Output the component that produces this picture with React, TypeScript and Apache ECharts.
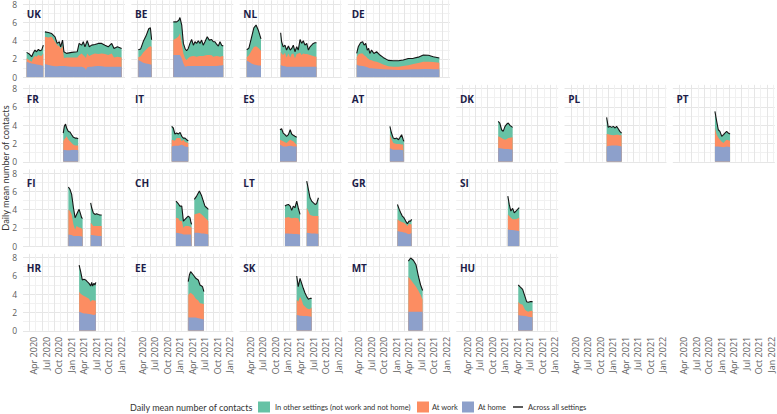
import React, { useEffect, useRef } from 'react';
import * as echarts from 'echarts';

// ---------- tick labels ----------
const xTickMonths = [3, 6, 9, 12, 15, 18, 21, 24];
const xTickLabels = ['Apr 2020', 'Jul 2020', 'Oct 2020', 'Jan 2021', 'Apr 2021', 'Jul 2021', 'Oct 2021', 'Jan 2022'];
const yTickValues = [0, 2, 4, 6, 8];

// ---------- data (null = gap between survey periods) ----------
const ukDates = ['2020-03-12','2020-04-01','2020-04-18','2020-04-30','2020-05-12','2020-05-24','2020-06-06','2020-06-18','2020-06-30','2020-07-12','2020-07-18','2020-07-24','2020-08-18','2020-09-12','2020-10-06','2020-10-22','2020-11-07','2020-11-16','2020-11-30','2020-12-10','2020-12-29','2021-02-05','2021-03-16','2021-03-30','2021-04-17','2021-04-29','2021-05-11','2021-05-18','2021-05-28','2021-06-12','2021-06-29','2021-07-23','2021-08-17','2021-09-11','2021-10-05','2021-10-29','2021-11-23','2021-12-10','2022-01-04','2022-02-04'];
const ukHome = [1.70,1.58,1.52,1.48,1.45,1.41,1.38,1.34,1.30,1.27,null,1.45,1.35,1.27,1.20,1.20,1.23,1.23,1.23,1.23,1.20,1.16,1.16,1.16,1.16,1.10,0.98,0.80,1.10,1.16,1.16,1.20,1.23,1.20,1.16,1.16,1.16,1.16,1.16,1.16];
const ukWork = [0.37,0.27,0.18,0.62,0.87,0.84,1.05,1.02,1.06,1.33,null,2.97,3.00,3.15,2.68,2.30,2.17,1.87,2.22,0.87,0.97,1.01,1.01,1.24,1.44,1.30,1.27,1.30,1.50,1.16,1.29,1.40,1.31,1.40,1.38,1.27,1.44,1.01,1.09,1.01];
const ukOther = [0.65,0.69,0.55,0.58,0.65,0.54,0.61,0.54,0.61,0.91,null,0.54,0.54,0.36,0.54,0.20,0.48,0.23,0.61,0.69,0.44,0.55,0.62,1.30,0.91,1.48,1.08,1.50,1.39,1.01,1.06,0.99,1.16,1.10,0.97,0.90,1.10,0.98,1.08,0.98];

const beDates = ['2020-04-06','2020-04-23','2020-05-12','2020-06-01','2020-06-21','2020-07-03','2020-07-12','2020-09-15','2020-12-18','2021-01-12','2021-01-28','2021-02-05','2021-02-17','2021-02-28','2021-03-12','2021-03-24','2021-04-05','2021-04-17','2021-04-29','2021-05-12','2021-05-24','2021-06-05','2021-06-17','2021-06-29','2021-07-11','2021-07-23','2021-08-05','2021-08-22','2021-09-06','2021-09-23','2021-10-05','2021-10-17','2021-10-29','2021-11-11','2021-11-23','2021-12-05','2021-12-17'];
const beHome = [1.90,1.75,1.60,1.50,1.45,1.40,1.40,null,2.43,2.43,2.43,2.43,2.07,1.52,1.16,1.20,1.23,1.23,1.23,1.23,1.23,1.23,1.23,1.23,1.23,1.23,1.23,1.23,1.23,1.23,1.23,1.23,1.23,1.25,1.28,1.30,1.34];
const beWork = [0.30,0.55,1.10,1.50,1.85,2.00,1.90,null,1.63,1.87,2.07,2.35,1.63,1.08,0.91,0.68,0.87,1.02,1.07,1.09,1.07,1.02,1.07,1.09,1.09,1.09,1.15,1.20,1.20,1.17,1.02,1.07,1.09,1.05,0.97,1.00,0.98];
const beOther = [0.80,0.80,1.20,1.50,2.00,2.00,0.80,null,1.99,1.75,1.73,1.74,1.99,1.10,1.08,1.02,1.05,1.45,1.83,1.19,1.58,1.45,1.69,1.38,1.74,1.19,1.50,1.99,1.63,1.73,1.63,1.58,1.30,1.11,1.63,1.21,1.09];

const nlDates = ['2020-04-07','2020-04-23','2020-05-11','2020-05-29','2020-06-14','2020-07-01','2020-07-20','2020-10-01','2020-12-11','2020-12-18','2020-12-30','2021-01-12','2021-01-24','2021-02-06','2021-02-18','2021-02-28','2021-03-12','2021-03-24','2021-04-06','2021-04-17','2021-04-30','2021-05-12','2021-05-24','2021-06-05','2021-06-18','2021-06-30','2021-07-12','2021-07-24','2021-08-05','2021-08-17','2021-08-29'];
const nlHome = [1.80,1.70,1.50,1.40,1.35,1.30,1.30,null,1.34,1.30,1.23,1.20,1.16,1.16,1.16,1.16,1.16,1.16,1.16,1.16,1.16,1.16,1.16,1.16,1.16,1.16,1.16,1.16,1.16,1.16,1.16];
const nlWork = [0.40,0.70,1.40,1.90,2.05,1.90,1.60,null,1.45,1.30,1.20,1.48,1.01,1.44,1.01,1.38,1.44,0.91,1.38,1.44,1.52,1.27,1.44,1.39,1.38,1.32,1.27,1.22,1.16,1.12,1.09];
const nlOther = [0.80,0.80,1.40,2.10,2.30,1.90,1.30,null,2.07,1.28,0.90,0.83,0.80,0.81,0.80,0.61,0.91,0.72,0.79,0.37,1.45,1.27,1.39,0.96,1.16,0.49,0.90,1.13,1.38,1.49,1.52];

const deDates = ['2020-04-19','2020-04-30','2020-05-17','2020-06-02','2020-06-12','2020-06-24','2020-07-05','2020-07-15','2020-07-24','2020-08-06','2020-08-23','2020-09-12','2020-10-06','2020-10-30','2020-12-06','2021-01-12','2021-02-18','2021-03-24','2021-04-30','2021-06-06','2021-07-12','2021-08-18','2021-09-24','2021-10-30','2021-12-13'];
const deHome = [1.40,1.30,1.25,1.23,1.20,1.15,1.10,1.05,1.00,1.00,0.95,0.92,0.90,0.88,0.85,0.82,0.80,0.82,0.85,0.87,0.88,0.90,0.90,0.88,0.87];
const deWork = [0.80,1.20,1.35,1.37,1.20,1.15,1.00,0.95,0.90,0.85,0.80,0.78,0.65,0.52,0.35,0.34,0.36,0.41,0.47,0.58,0.67,0.80,0.80,0.80,0.73];
const deOther = [0.40,0.83,1.17,1.28,1.11,1.40,0.87,1.15,0.70,1.12,0.85,1.09,0.88,0.77,0.65,0.65,0.65,0.65,0.73,0.62,0.65,0.73,0.70,0.57,0.50];

const frDates = ['2020-12-05','2020-12-13','2020-12-22','2020-12-30','2021-01-12','2021-01-24','2021-02-05','2021-02-17','2021-02-28','2021-03-11','2021-03-23'];
const frHome = [1.32,1.30,1.28,1.25,1.25,1.25,1.28,1.32,1.30,1.28,1.25];
const frWork = [0.91,1.15,1.31,1.53,1.16,0.98,0.77,0.55,0.49,0.51,0.54];
const frOther = [0.91,1.42,1.53,0.91,0.91,1.02,0.91,0.80,0.80,0.80,0.73];

const itDates = ['2020-12-06','2020-12-18','2020-12-30','2021-01-12','2021-01-24','2021-02-06','2021-02-17','2021-02-28','2021-03-12','2021-03-24','2021-04-05'];
const itHome = [1.68,1.72,1.76,1.76,1.76,1.80,1.87,1.78,1.68,1.65,1.61];
const itWork = [0.73,0.63,0.54,0.83,0.83,0.79,0.36,0.63,0.48,0.45,0.44];
const itOther = [1.46,1.34,0.73,0.55,0.44,0.62,0.55,0.18,0.43,0.31,0.25];

const esDates = ['2020-12-06','2020-12-18','2020-12-30','2021-01-12','2021-01-24','2021-02-06','2021-02-18','2021-02-28','2021-03-12','2021-03-24','2021-04-06'];
const esHome = [1.87,1.78,1.68,1.68,1.68,1.72,1.76,1.72,1.68,1.68,1.68];
const esWork = [0.54,0.54,0.55,0.46,0.37,0.51,0.65,0.60,0.55,0.37,0.19];
const esOther = [1.09,1.29,0.91,0.82,0.73,0.73,1.09,0.71,0.66,0.73,0.80];

const atDates = ['2020-12-18','2020-12-30','2021-01-12','2021-01-24','2021-02-06','2021-02-18','2021-02-28','2021-03-12','2021-03-24','2021-03-29'];
const atHome = [1.50,1.40,1.32,1.32,1.32,1.32,1.32,1.30,1.27,1.25];
const atWork = [1.46,1.10,0.73,0.68,0.62,0.62,0.62,0.60,0.61,0.62];
const atOther = [0.91,0.64,0.54,0.52,0.65,0.47,0.73,1.06,0.53,0.36];

const dkDates = ['2020-12-18','2020-12-30','2021-01-12','2021-01-24','2021-02-06','2021-02-18','2021-02-28','2021-03-12','2021-04-01'];
const dkHome = [1.50,1.47,1.45,1.43,1.41,1.40,1.39,1.36,1.32];
const dkWork = [1.28,1.23,1.14,1.07,1.00,1.10,1.20,1.27,1.35];
const dkOther = [1.63,1.53,0.91,0.82,1.46,1.62,1.64,1.35,1.09];

const plDates = ['2020-12-19','2020-12-31','2021-01-13','2021-01-25','2021-02-06','2021-02-18','2021-02-28','2021-03-12','2021-03-24','2021-04-06'];
const plHome = [1.68,1.72,1.76,1.77,1.78,1.79,1.79,1.75,1.72,1.68];
const plWork = [1.35,1.28,1.20,1.15,1.11,1.13,1.17,1.19,1.18,1.21];
const plOther = [1.82,0.76,0.91,0.84,0.98,0.77,0.91,0.67,0.42,0.25];

const ptDates = ['2020-12-19','2021-01-01','2021-01-13','2021-01-25','2021-02-07','2021-02-19','2021-02-28','2021-03-13','2021-03-25','2021-04-07'];
const ptHome = [1.68,1.68,1.68,1.65,1.62,1.58,1.62,1.68,1.65,1.61];
const ptWork = [2.01,1.28,0.97,0.76,0.58,0.47,0.63,0.73,0.70,0.69];
const ptOther = [1.81,1.45,0.85,0.91,0.58,0.91,0.89,0.91,0.79,0.73];

const fiDates = ['2021-01-12','2021-01-24','2021-02-05','2021-02-17','2021-02-28','2021-03-11','2021-03-23','2021-03-30','2021-04-10','2021-04-17','2021-04-24','2021-05-20','2021-06-22','2021-06-29','2021-07-11','2021-07-23','2021-08-05','2021-08-17','2021-08-29','2021-09-11'];
const fiHome = [1.30,1.27,1.23,1.12,1.12,1.12,1.12,1.12,1.10,1.08,1.04,null,1.23,1.22,1.20,1.19,1.15,1.12,1.12,1.12];
const fiWork = [2.73,2.58,2.25,1.27,0.72,1.09,0.98,0.94,0.93,0.87,0.80,null,1.34,1.23,1.01,1.02,1.06,1.09,1.09,1.09];
const fiOther = [2.44,2.36,2.19,1.82,1.28,1.27,1.75,1.97,1.45,1.17,1.21,null,2.18,1.76,1.45,1.27,1.35,1.27,1.20,1.20];

const chDates = ['2021-01-07','2021-01-24','2021-02-05','2021-02-17','2021-02-28','2021-03-12','2021-03-24','2021-04-05','2021-04-17','2021-04-25','2021-04-29','2021-05-10','2021-05-19','2021-06-05','2021-06-18','2021-06-25','2021-07-12','2021-07-24','2021-08-05','2021-08-18','2021-08-30'];
const chHome = [1.48,1.45,1.41,1.36,1.30,1.30,1.30,1.30,1.30,1.30,1.30,null,1.48,1.48,1.48,1.45,1.41,1.39,1.37,1.33,1.30];
const chWork = [1.64,1.60,1.34,1.39,0.73,0.91,0.91,0.91,0.85,0.78,0.73,null,2.00,2.08,2.14,2.21,2.07,1.91,1.75,1.61,1.45];
const chOther = [1.82,1.60,1.64,1.64,0.72,0.73,0.91,1.09,0.97,0.49,0.36,null,1.64,1.92,2.23,2.37,2.00,1.64,1.27,1.27,1.28];

const ltDates = ['2021-01-12','2021-01-24','2021-02-06','2021-02-18','2021-02-28','2021-03-12','2021-03-24','2021-04-06','2021-04-17','2021-04-30','2021-05-25','2021-06-18','2021-06-30','2021-07-12','2021-07-24','2021-08-05','2021-08-18','2021-08-30','2021-09-12'];
const ltHome = [1.41,1.40,1.39,1.37,1.36,1.35,1.34,1.33,1.32,1.30,null,1.48,1.45,1.43,1.41,1.40,1.39,1.38,1.37];
const ltWork = [1.71,1.75,1.80,1.75,1.69,1.73,1.78,1.77,1.73,1.27,null,2.73,2.40,1.98,1.94,1.90,1.91,1.92,1.93];
const ltOther = [1.27,1.35,1.38,1.27,0.87,1.31,1.09,1.84,1.16,0.91,null,2.91,2.36,1.89,1.59,1.46,1.27,1.35,2.00];

const grDates = ['2021-02-11','2021-02-23','2021-03-05','2021-03-17','2021-03-29','2021-04-11','2021-04-23','2021-05-05','2021-05-17','2021-05-24'];
const grHome = [1.66,1.62,1.58,1.55,1.52,1.48,1.38,1.32,1.40,1.48];
const grWork = [1.28,1.18,1.12,1.07,1.05,0.92,0.83,1.14,1.02,0.91];
const grOther = [1.63,1.23,0.96,0.68,0.55,0.35,0.25,0.29,0.33,0.55];

const siDates = ['2021-02-25','2021-03-07','2021-03-19','2021-04-01','2021-04-13','2021-04-25','2021-05-07','2021-05-19'];
const siHome = [1.84,1.80,1.78,1.77,1.75,1.73,1.70,1.66];
const siWork = [1.64,1.50,1.34,1.17,1.19,1.21,1.33,1.46];
const siOther = [2.00,1.27,0.73,1.20,0.72,0.91,1.00,1.09];

const hrDates = ['2021-03-30','2021-04-10','2021-04-22','2021-05-04','2021-05-16','2021-05-28','2021-06-10','2021-06-22','2021-06-29','2021-07-06','2021-07-16','2021-07-23','2021-07-30'];
const hrHome = [2.09,2.02,1.95,1.90,1.88,1.85,1.83,1.80,1.78,1.75,1.73,1.75,1.83];
const hrWork = [2.18,2.03,1.96,1.90,1.85,1.75,1.67,1.38,1.52,1.61,1.59,1.55,1.46];
const hrOther = [2.91,2.41,1.64,1.82,1.82,1.76,1.68,1.71,1.99,1.53,1.86,1.70,2.00];

const eeDates = ['2021-04-05','2021-04-13','2021-04-22','2021-05-12','2021-05-30','2021-06-17','2021-06-29','2021-07-11','2021-07-18','2021-07-28'];
const eeHome = [1.47,1.46,1.45,1.44,1.46,1.36,1.33,1.29,1.27,1.25];
const eeWork = [2.44,2.59,2.71,2.47,2.04,1.94,1.67,1.68,1.68,1.68];
const eeOther = [1.45,2.04,2.30,2.18,2.23,2.25,2.00,1.92,1.87,1.34];

const skDates = ['2021-04-06','2021-04-17','2021-04-30','2021-05-12','2021-05-24','2021-06-05','2021-06-18','2021-06-30','2021-07-12','2021-07-24'];
const skHome = [1.72,1.69,1.65,1.63,1.62,1.62,1.62,1.60,1.57,1.54];
const skWork = [1.64,1.49,2.08,1.73,1.20,1.03,0.83,0.78,0.79,1.02];
const skOther = [2.62,1.64,2.00,1.82,1.82,1.51,1.28,1.06,1.18,0.98];

const mtDates = ['2021-04-30','2021-05-17','2021-06-06','2021-06-25','2021-07-12','2021-07-29','2021-08-13'];
const mtHome = [2.08,2.08,2.08,2.08,2.08,2.08,2.08];
const mtWork = [3.82,3.52,3.12,2.72,2.32,1.82,1.32];
const mtOther = [1.70,2.35,2.50,2.40,1.60,1.10,1.00];

const huDates = ['2021-05-12','2021-05-24','2021-06-13','2021-06-30','2021-07-12','2021-07-24','2021-08-06','2021-08-25'];
const huHome = [1.72,1.68,1.64,1.62,1.58,1.54,1.50,1.47];
const huWork = [1.46,1.27,1.21,0.68,0.57,0.55,0.65,0.73];
const huOther = [1.82,1.87,1.68,1.43,1.03,1.02,1.03,0.98];

const countries = [
  { code: 'UK', row: 0, col: 0, dates: ukDates, home: ukHome, work: ukWork, other: ukOther },
  { code: 'BE', row: 0, col: 1, dates: beDates, home: beHome, work: beWork, other: beOther },
  { code: 'NL', row: 0, col: 2, dates: nlDates, home: nlHome, work: nlWork, other: nlOther },
  { code: 'DE', row: 0, col: 3, dates: deDates, home: deHome, work: deWork, other: deOther },
  { code: 'FR', row: 1, col: 0, dates: frDates, home: frHome, work: frWork, other: frOther },
  { code: 'IT', row: 1, col: 1, dates: itDates, home: itHome, work: itWork, other: itOther },
  { code: 'ES', row: 1, col: 2, dates: esDates, home: esHome, work: esWork, other: esOther },
  { code: 'AT', row: 1, col: 3, dates: atDates, home: atHome, work: atWork, other: atOther },
  { code: 'DK', row: 1, col: 4, dates: dkDates, home: dkHome, work: dkWork, other: dkOther },
  { code: 'PL', row: 1, col: 5, dates: plDates, home: plHome, work: plWork, other: plOther },
  { code: 'PT', row: 1, col: 6, dates: ptDates, home: ptHome, work: ptWork, other: ptOther },
  { code: 'FI', row: 2, col: 0, dates: fiDates, home: fiHome, work: fiWork, other: fiOther },
  { code: 'CH', row: 2, col: 1, dates: chDates, home: chHome, work: chWork, other: chOther },
  { code: 'LT', row: 2, col: 2, dates: ltDates, home: ltHome, work: ltWork, other: ltOther },
  { code: 'GR', row: 2, col: 3, dates: grDates, home: grHome, work: grWork, other: grOther },
  { code: 'SI', row: 2, col: 4, dates: siDates, home: siHome, work: siWork, other: siOther },
  { code: 'HR', row: 3, col: 0, dates: hrDates, home: hrHome, work: hrWork, other: hrOther },
  { code: 'EE', row: 3, col: 1, dates: eeDates, home: eeHome, work: eeWork, other: eeOther },
  { code: 'SK', row: 3, col: 2, dates: skDates, home: skHome, work: skWork, other: skOther },
  { code: 'MT', row: 3, col: 3, dates: mtDates, home: mtHome, work: mtWork, other: mtOther },
  { code: 'HU', row: 3, col: 4, dates: huDates, home: huHome, work: huWork, other: huOther },
];

// ---------- styling / layout ----------
const C_HOME = '#8DA0CB';
const C_WORK = '#FC8D62';
const C_OTHER = '#66C2A5';
const C_LINE = '#151515';
const GRID_MAJOR = '#e6e6e6';
const GRID_MINOR = '#f1f1f1';
const FONT = '"Open Sans", "Noto Sans", sans-serif';
const FONT_N = 'Lato, "Open Sans", sans-serif';

const TICK0 = 29.3;     // px of Apr 2020 in first column
const PXM = 4.176;      // px per month
const COLW = 108.3;
const ROWH = 84.5;
const Y0 = 77.3;        // px of y=0 in first row
const PXU = 9.16;       // px per unit
const X_MIN = 1.5;
const X_MAX = 25.92;
const Y_MAX = 8.4;

const gridLeft = (c: number) => TICK0 + c * COLW + (X_MIN - 3) * PXM;
const gridTop = (r: number) => Y0 + r * ROWH - Y_MAX * PXU;
const GRID_W = (X_MAX - X_MIN) * PXM;
const GRID_H = Y_MAX * PXU;

const toM = (d: string) => {
  const [y, mo, da] = d.split('-').map(Number);
  const dim = new Date(Date.UTC(y, mo, 0)).getUTCDate();
  return (y - 2020) * 12 + (mo - 1) + (da - 1) / dim;
};

// font size that makes a text span a given width
const fitSize = (text: string, width: number, family: string, maxSize: number) => {
  const ctx = document.createElement('canvas').getContext('2d');
  if (!ctx) return maxSize;
  ctx.font = `20px ${family}`;
  const w = ctx.measureText(text).width;
  if (!w) return maxSize;
  return Math.min(maxSize, (20 * width) / w);
};

export default function App() {
  const ref = useRef<HTMLDivElement>(null);
  useEffect(() => {
    if (!ref.current) return;
    const chart = echarts.init(ref.current, undefined, { renderer: 'svg', width: 777, height: 414 });
    const grids: any[] = [];
    const xAxes: any[] = [];
    const yAxes: any[] = [];
    const series: any[] = [];
    const graphics: any[] = [];

    const xLabel = (show: boolean) => ({
      show,
      rotate: 90,
      verticalAlign: 'top',
      margin: 6,
      fontSize: 9,
      fontFamily: FONT,
      color: '#5c5c5c',
      formatter: (v: number) => {
        const k = xTickMonths.findIndex((m) => Math.abs(m - v) < 1e-6);
        return k >= 0 ? xTickLabels[k] : '';
      },
    });

    const addGrid = (row: number, col: number, withLines: boolean, showX: boolean) => {
      const g = grids.length;
      grids.push({ left: gridLeft(col), top: gridTop(row), width: GRID_W, height: GRID_H, containLabel: false, outerBoundsMode: 'none' });
      xAxes.push({
        type: 'value', gridIndex: g, min: X_MIN, max: X_MAX, interval: 1.5,
        axisLine: { show: false }, axisTick: { show: false },
        axisLabel: xLabel(showX),
        splitLine: { show: withLines, showMinLine: false, showMaxLine: false, lineStyle: { color: [GRID_MAJOR, GRID_MINOR], width: 1 } },
      });
      yAxes.push({
        type: 'value', gridIndex: g, min: 0, max: Y_MAX, interval: 1, show: withLines,
        axisLine: { show: false }, axisTick: { show: false },
        axisLabel: {
          show: col === 0 && withLines, margin: 6, fontSize: 8.5, fontFamily: FONT, color: '#5c5c5c',
          formatter: (v: number) => (yTickValues.some((t) => Math.abs(t - v) < 1e-6) ? String(Math.round(v)) : ''),
        },
        splitLine: { show: withLines, showMaxLine: false, lineStyle: { color: [GRID_MAJOR, GRID_MINOR], width: 1 } },
      });
      return g;
    };

    countries.forEach((ct) => {
      const g = addGrid(ct.row, ct.col, true, ct.row === 3);
      const segs: { m: number; h: number; w: number; o: number }[][] = [];
      let cur: { m: number; h: number; w: number; o: number }[] = [];
      const n = Math.min(ct.dates.length, ct.home.length, ct.work.length, ct.other.length);
      for (let i = 0; i < n; i++) {
        const h = ct.home[i], w = ct.work[i], o = ct.other[i];
        if (h == null || w == null || o == null) {
          if (cur.length) segs.push(cur);
          cur = [];
        } else cur.push({ m: toM(ct.dates[i]), h, w, o });
      }
      if (cur.length) segs.push(cur);

      segs.forEach((seg) => {
        const base = { type: 'line', xAxisIndex: g, yAxisIndex: g, showSymbol: false, symbol: 'none', silent: true, animation: false, smooth: false };
        series.push({ ...base, z: 2, data: seg.map((p) => [p.m, +(p.h + p.w + p.o).toFixed(3)]), lineStyle: { width: 0, color: C_OTHER }, itemStyle: { color: C_OTHER }, areaStyle: { color: C_OTHER, opacity: 1 } });
        series.push({ ...base, z: 3, data: seg.map((p) => [p.m, +(p.h + p.w).toFixed(3)]), lineStyle: { width: 0, color: C_WORK }, itemStyle: { color: C_WORK }, areaStyle: { color: C_WORK, opacity: 1 } });
        series.push({ ...base, z: 4, data: seg.map((p) => [p.m, p.h]), lineStyle: { width: 0, color: C_HOME }, itemStyle: { color: C_HOME }, areaStyle: { color: C_HOME, opacity: 1 } });
        series.push({ ...base, z: 6, data: seg.map((p) => [p.m, +(p.h + p.w + p.o).toFixed(3)]), lineStyle: { width: 1.1, color: C_LINE }, itemStyle: { color: C_LINE } });
      });

      graphics.push({
        type: 'text', x: gridLeft(ct.col) + 3.7, y: Y0 + ct.row * ROWH - 6.9 * PXU, z: 10,
        style: { text: ct.code, font: `bold 10px ${FONT}`, fill: '#1c1c48', align: 'left', verticalAlign: 'middle' },
      });
    });

    addGrid(3, 5, false, true);
    addGrid(3, 6, false, true);

    const title = 'Daily mean number of contacts';
    const titleSize = fitSize(title, 126, FONT_N, 11);
    graphics.push({
      type: 'text', x: 5.5, y: 168, rotation: Math.PI / 2,
      style: { text: title, font: `${titleSize}px ${FONT_N}`, fill: '#333', align: 'center', verticalAlign: 'middle' },
    });

    // legend
    const LY = 407;
    const legTitleSize = fitSize(title, 123, FONT_N, 12);
    graphics.push({ type: 'text', x: 130, y: LY, style: { text: title, font: `${legTitleSize}px ${FONT_N}`, fill: '#333', align: 'left', verticalAlign: 'middle' } });
    const legItems = [
      { text: 'In other settings (not work and not home)', x: 275 },
      { text: 'At work', x: 432 },
      { text: 'At home', x: 478 },
      { text: 'Across all settings', x: 528 },
    ];
    const itemSize = fitSize(legItems[0].text, 136, FONT_N, 11);
    legItems.forEach((t) => {
      graphics.push({ type: 'text', x: t.x, y: LY, style: { text: t.text, font: `${itemSize}px ${FONT_N}`, fill: '#333', align: 'left', verticalAlign: 'middle' } });
    });
    graphics.push({ type: 'rect', shape: { x: 258, y: LY - 5.5, width: 12, height: 11 }, style: { fill: C_OTHER } });
    graphics.push({ type: 'rect', shape: { x: 417, y: LY - 5.5, width: 12, height: 11 }, style: { fill: C_WORK } });
    graphics.push({ type: 'rect', shape: { x: 462, y: LY - 5.5, width: 12, height: 11 }, style: { fill: C_HOME } });
    graphics.push({ type: 'line', shape: { x1: 513, y1: LY, x2: 523, y2: LY }, style: { stroke: '#333', lineWidth: 1.6 } });

    chart.setOption({
      animation: false,
      backgroundColor: '#ffffff',
      grid: grids,
      xAxis: xAxes,
      yAxis: yAxes,
      series,
      graphic: graphics,
    });
    return () => chart.dispose();
  }, []);
  return <div ref={ref} style={{ position: 'absolute', left: 0, top: 0, width: 777, height: 414 }} />;
}
